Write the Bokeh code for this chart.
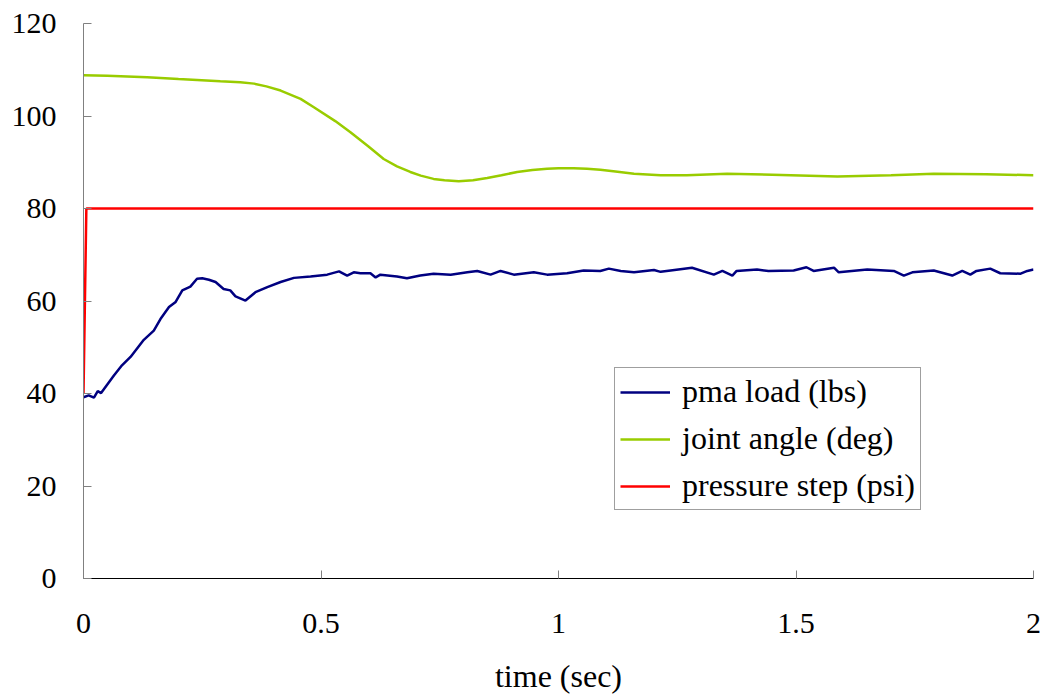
from bokeh.plotting import figure
from bokeh.models import Range1d, FixedTicker, CustomJSTickFormatter
from bokeh.embed import file_html
from bokeh.resources import INLINE

# ---- data ----
x_ticks = [0, 0.5, 1, 1.5, 2]
y_ticks = [0, 20, 40, 60, 80, 100, 120]
x_title = "time (sec)"

series_names = ["pma load (lbs)", "joint angle (deg)", "pressure step (psi)"]

pma_t = [0, 0.011, 0.022, 0.030, 0.037, 0.064, 0.081, 0.099, 0.127, 0.148, 0.162,
         0.180, 0.194, 0.208, 0.225, 0.239, 0.250, 0.264, 0.278, 0.295, 0.309, 0.320,
         0.341, 0.362, 0.387, 0.415, 0.443, 0.478, 0.513, 0.538, 0.555, 0.569, 0.583,
         0.604, 0.615, 0.625, 0.660, 0.681, 0.709, 0.737, 0.773, 0.808, 0.829, 0.857,
         0.878, 0.906, 0.948, 0.976, 1.018, 1.053, 1.088, 1.106, 1.131, 1.159, 1.201,
         1.215, 1.236, 1.281, 1.327, 1.345, 1.366, 1.375, 1.418, 1.442, 1.495, 1.522,
         1.537, 1.580, 1.590, 1.650, 1.706, 1.727, 1.745, 1.790, 1.829, 1.850, 1.867,
         1.880, 1.909, 1.930, 1.973, 1.987, 2.000]
pma_v = [39.2, 39.6, 39.1, 40.5, 40.1, 43.9, 46.1, 47.9, 51.6, 53.6, 56.1,
         58.7, 59.8, 62.3, 63.1, 64.8, 64.9, 64.6, 64.1, 62.6, 62.3, 61.0,
         60.1, 61.9, 63.0, 64.1, 65.0, 65.3, 65.7, 66.4, 65.5, 66.2, 66.0,
         66.0, 65.1, 65.7, 65.3, 64.9, 65.5, 65.9, 65.7, 66.2, 66.5, 65.7,
         66.5, 65.7, 66.2, 65.7, 66.0, 66.6, 66.5, 67.0, 66.5, 66.2, 66.7,
         66.3, 66.6, 67.2, 65.7, 66.5, 65.5, 66.5, 66.8, 66.5, 66.6, 67.3,
         66.5, 67.2, 66.2, 66.8, 66.5, 65.5, 66.2, 66.6, 65.5, 66.5, 65.7,
         66.5, 67.0, 66.0, 65.9, 66.5, 66.8]

angle_t = [0, 0.05, 0.134, 0.2, 0.288, 0.33, 0.359, 0.385, 0.415, 0.457, 0.485,
           0.53, 0.562, 0.60, 0.632, 0.66, 0.688, 0.71, 0.737, 0.76, 0.79, 0.82,
           0.85, 0.88, 0.913, 0.945, 0.976, 1.0, 1.032, 1.06, 1.088, 1.12, 1.159,
           1.215, 1.27, 1.355, 1.45, 1.587, 1.70, 1.79, 1.90, 2.0]
angle_v = [108.8, 108.7, 108.4, 108.0, 107.5, 107.3, 107.0, 106.4, 105.5, 103.7, 101.9,
           98.9, 96.5, 93.4, 90.7, 89.1, 87.9, 87.1, 86.4, 86.1, 85.9, 86.1,
           86.6, 87.2, 87.9, 88.3, 88.6, 88.7, 88.7, 88.6, 88.4, 88.0, 87.5,
           87.2, 87.2, 87.5, 87.3, 86.9, 87.2, 87.5, 87.4, 87.2]

pressure_t = [0, 0.006, 2.0]
pressure_v = [40, 80, 80]

colors = ["#000080", "#99CC00", "#FF0000"]

FONT = "'Liberation Serif'"

p = figure(width=1047, height=696, output_backend="svg", toolbar_location=None,
           x_range=Range1d(0, 2), y_range=Range1d(0, 120),
           min_border_left=83, min_border_right=14, min_border_top=23,
           min_border_bottom=118)
p.outline_line_color = None
p.grid.visible = False
p.background_fill_color = "white"

p.line(pma_t, pma_v, line_color=colors[0], line_width=2.5, legend_label=series_names[0])
p.line(angle_t, angle_v, line_color=colors[1], line_width=2.5, legend_label=series_names[1])
p.line(pressure_t, pressure_v, line_color=colors[2], line_width=2.5, legend_label=series_names[2])

# axes
for ax in (p.xaxis[0], p.yaxis[0]):
    ax.major_label_text_font = FONT
    ax.major_label_text_font_size = "30px"
    ax.major_label_text_color = "black"
    ax.major_tick_in = 8
    ax.major_tick_out = 0
    ax.minor_tick_line_color = None
    ax.major_tick_line_color = "#808080"

p.xaxis.ticker = FixedTicker(ticks=x_ticks)
p.xaxis.formatter = CustomJSTickFormatter(code="return tick.toString();")
p.xaxis.axis_line_color = "black"
p.xaxis.major_label_standoff = 35
p.xaxis.axis_label = x_title
p.xaxis.axis_label_text_font = FONT
p.xaxis.axis_label_text_font_size = "32px"
p.xaxis.axis_label_text_font_style = "normal"
p.xaxis.axis_label_text_color = "black"
p.xaxis.axis_label_standoff = 22

p.yaxis.ticker = FixedTicker(ticks=y_ticks)
p.yaxis.axis_line_color = "#808080"
p.yaxis.major_label_standoff = 27

# legend
lg = p.legend[0]
lg.location = (531, 68)
lg.label_text_font = FONT
lg.label_text_font_size = "32px"
lg.label_text_color = "black"
lg.glyph_width = 50
lg.glyph_height = 30
lg.label_height = 30
lg.label_standoff = 12
lg.padding = 5
lg.spacing = 10
lg.margin = 0
lg.border_line_color = "#404040"
lg.border_line_width = 1
lg.background_fill_alpha = 1.0

open("out.html", "w").write(file_html(p, INLINE))
